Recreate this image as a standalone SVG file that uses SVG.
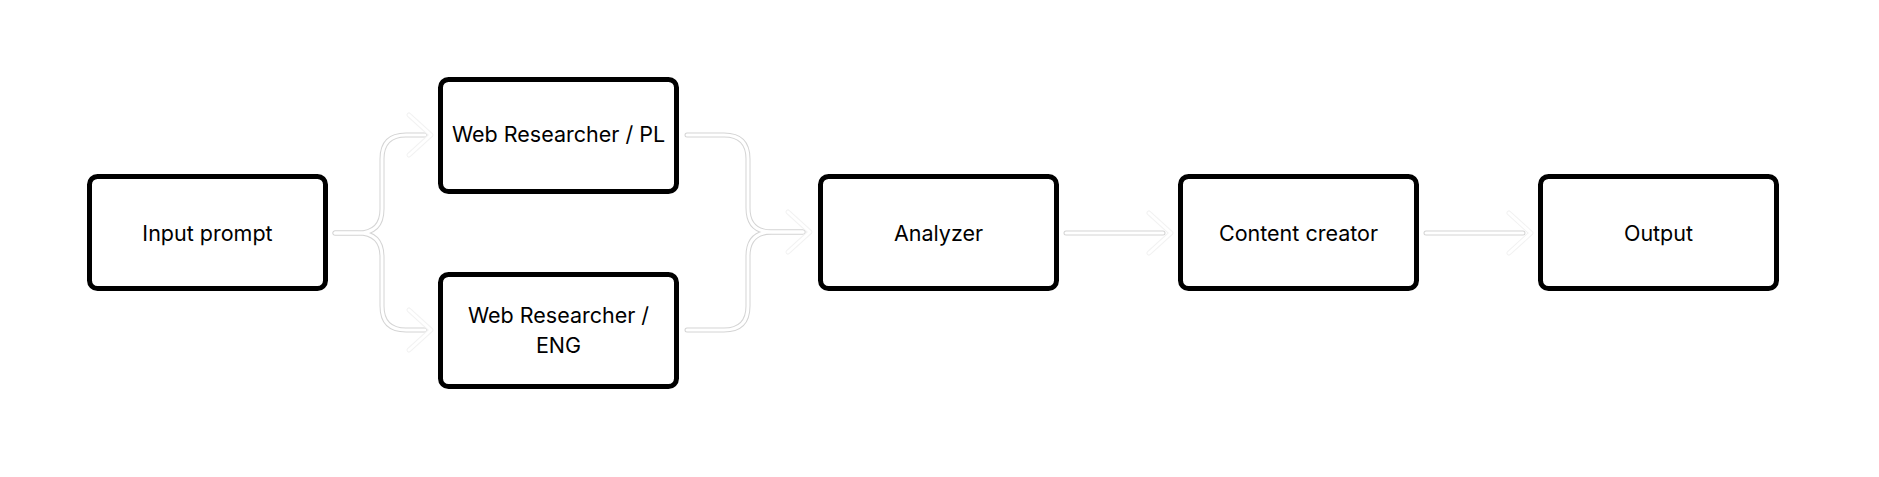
<svg xmlns="http://www.w3.org/2000/svg" width="1879" height="477" viewBox="0 0 1879 477">
<style>
.box{fill:#fff;stroke:#000;stroke-width:5}
.lbl{font-family:Inter,"Liberation Sans",sans-serif;font-size:21.5px;font-weight:400;fill:#000;text-anchor:middle}
.eo{fill:none;stroke:#d4d4d4;stroke-width:5;stroke-linecap:round;stroke-linejoin:round}
.ei{fill:none;stroke:#fff;stroke-width:3;stroke-linecap:round;stroke-linejoin:round}
.ao{fill:none;stroke:#f2f2f2;stroke-width:5;stroke-linecap:round;stroke-linejoin:round}
</style>
<defs>
<path id="c1" d="M335 233 H358 Q382 233 382 209 V159 Q382 135 406 135 H425"/>
<path id="c2" d="M335 233 H358 Q382 233 382 257 V306 Q382 330 406 330 H425"/>
<path id="c3" d="M687 135 H724 Q748 135 748 159 V208 Q748 232 772 232 H803"/>
<path id="c4" d="M687 330 H724 Q748 330 748 306 V256 Q748 232 772 232 H803"/>
<path id="c5" d="M1066 233 H1163"/>
<path id="c6" d="M1426 233 H1523"/>
<path id="a1" d="M409 115 L431 135 L409 155"/>
<path id="a2" d="M409 310 L431 330 L409 350"/>
<path id="a3" d="M788 212 L810 232 L788 252"/>
<path id="a5" d="M1149 213 L1171 233 L1149 253"/>
<path id="a6" d="M1509 213 L1531 233 L1509 253"/>
</defs>
<g id="connectors">
<use href="#c1" class="eo"/><use href="#c2" class="eo"/><use href="#c3" class="eo"/><use href="#c4" class="eo"/><use href="#c5" class="eo"/><use href="#c6" class="eo"/>
<use href="#c1" class="ei"/><use href="#c2" class="ei"/><use href="#c3" class="ei"/><use href="#c4" class="ei"/><use href="#c5" class="ei"/><use href="#c6" class="ei"/>
<use href="#a1" class="ao"/><use href="#a2" class="ao"/><use href="#a3" class="ao"/><use href="#a5" class="ao"/><use href="#a6" class="ao"/>
<use href="#a1" class="ei"/><use href="#a2" class="ei"/><use href="#a3" class="ei"/><use href="#a5" class="ei"/><use href="#a6" class="ei"/>
</g>
<g id="input-prompt"><rect class="box" x="89.5" y="176.5" width="236" height="112" rx="8"/><text class="lbl" x="207.5" y="241">Input prompt</text></g>
<g id="web-pl"><rect class="box" x="440.5" y="79.5" width="236" height="112" rx="8"/><text class="lbl" x="558.5" y="142">Web Researcher / PL</text></g>
<g id="web-eng"><rect class="box" x="440.5" y="274.5" width="236" height="112" rx="8"/><text class="lbl" x="558.5" y="323">Web Researcher /</text><text class="lbl" x="558.5" y="353">ENG</text></g>
<g id="analyzer"><rect class="box" x="820.5" y="176.5" width="236" height="112" rx="8"/><text class="lbl" x="938.5" y="241">Analyzer</text></g>
<g id="content-creator"><rect class="box" x="1180.5" y="176.5" width="236" height="112" rx="8"/><text class="lbl" x="1298.5" y="241">Content creator</text></g>
<g id="output"><rect class="box" x="1540.5" y="176.5" width="236" height="112" rx="8"/><text class="lbl" x="1658.5" y="241">Output</text></g>
</svg>
